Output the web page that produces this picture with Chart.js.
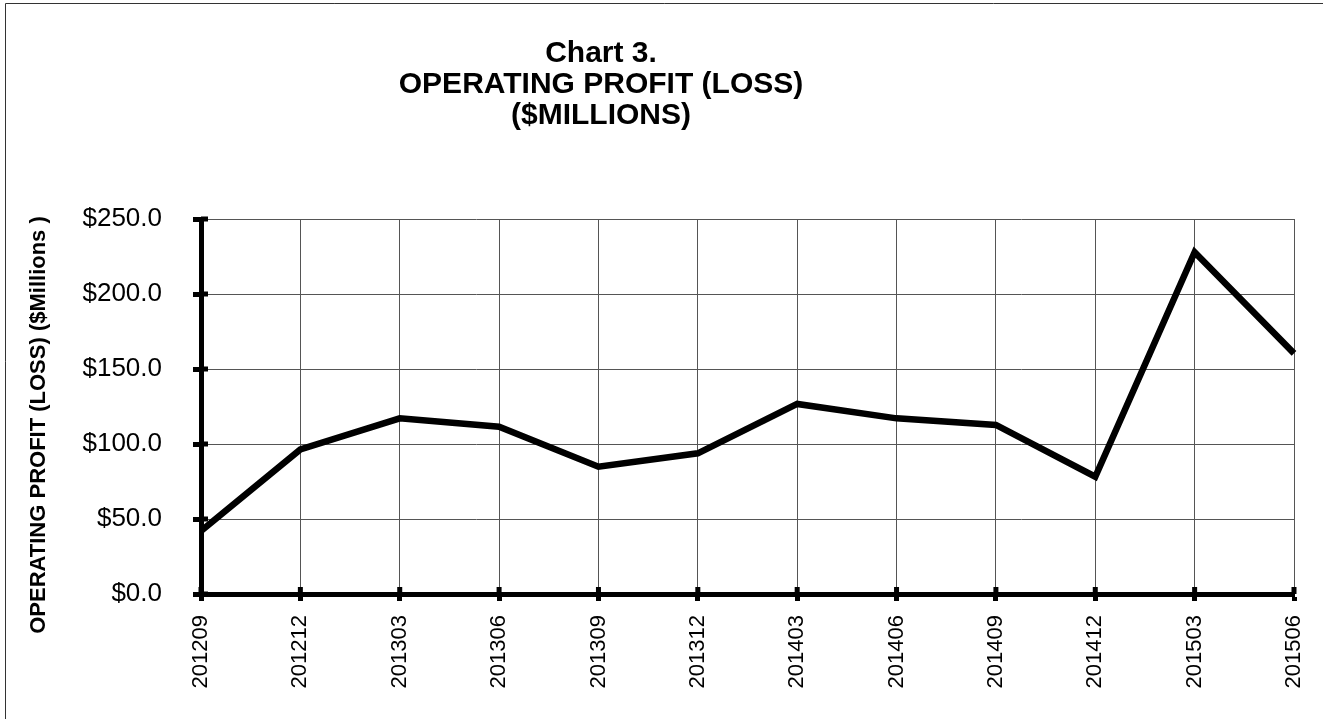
<!DOCTYPE html>
<html>
<head>
<meta charset="utf-8">
<script src="https://cdn.jsdelivr.net/npm/chart.js@4/dist/chart.umd.min.js"></script>
<style>
  body { margin: 0; background: #fff; }
  canvas { display: block; }
</style>
</head>
<body>
<canvas id="grafico" width="1323" height="719"></canvas>
<script>
// datos
const periodos = ['201209', '201212', '201303', '201306', '201309', '201312',
  '201403', '201406', '201409', '201412', '201503', '201506'];
const beneficio = [42, 96.4, 117.1, 111.5, 84.9, 93.8, 126.7, 117.1, 112.7, 78.2, 227.8, 160.4];
const tituloLineas = ['Chart 3.', 'OPERATING PROFIT (LOSS)', '($MILLIONS)'];
const tituloEjeY = 'OPERATING PROFIT (LOSS) ($Millions )';
const ejeMin = 0, ejeMax = 250, ejePaso = 50;

const fuente = "'Liberation Sans', Arial, sans-serif";
Chart.defaults.font.family = fuente;
Chart.defaults.color = '#000';

// marco, titulos y marcas cruzadas en los ejes
const textos = {
  id: 'textos',
  beforeDraw(chart) {
    const ctx = chart.ctx;
    ctx.save();
    ctx.strokeStyle = '#333';
    ctx.lineWidth = 1;
    ctx.beginPath();
    ctx.moveTo(5.5, 719); ctx.lineTo(5.5, 3.5); ctx.lineTo(1323, 3.5);
    ctx.stroke();
    ctx.restore();
  },
  afterDatasetsDraw(chart) {
    const ctx = chart.ctx;
    const area = chart.chartArea;
    const y = chart.scales.y, x = chart.scales.x;
    ctx.save();
    ctx.strokeStyle = '#000';
    ctx.lineWidth = 5;
    ctx.beginPath();
    y.ticks.forEach(t => {
      const py = y.getPixelForValue(t.value);
      ctx.moveTo(area.left, py); ctx.lineTo(area.left + 7, py);
    });
    periodos.forEach((p, i) => {
      const px = x.getPixelForValue(i);
      ctx.moveTo(px, area.bottom); ctx.lineTo(px, area.bottom - 7);
    });
    ctx.stroke();
    ctx.restore();
  },
  afterDraw(chart) {
    const ctx = chart.ctx;
    ctx.save();
    ctx.fillStyle = '#000';
    ctx.textAlign = 'center';
    ctx.textBaseline = 'alphabetic';
    ctx.font = 'bold 30px ' + fuente;
    tituloLineas.forEach((t, i) => ctx.fillText(t, 601, 62 + i * 31));
    ctx.translate(45, 425);
    ctx.rotate(-Math.PI / 2);
    ctx.font = 'bold 22px ' + fuente;
    ctx.fillText(tituloEjeY, 0, 0);
    ctx.restore();
  }
};

new Chart(document.getElementById('grafico'), {
  type: 'line',
  data: {
    labels: periodos,
    datasets: [{
      data: beneficio,
      borderColor: '#000',
      borderWidth: 6.5,
      pointRadius: 0,
      tension: 0,
      borderJoinStyle: 'miter'
    }]
  },
  options: {
    responsive: false,
    animation: false,
    layout: { padding: { top: 219, right: 29, left: 0, bottom: 0 } },
    plugins: {
      legend: { display: false },
      title: { display: false },
      tooltip: { enabled: false }
    },
    scales: {
      x: {
        afterFit(scale) {
          scale.height = 125;
          scale.paddingLeft = 0;
          scale.paddingRight = 0;
        },
        grid: { color: '#555', lineWidth: 1, tickLength: 7, tickWidth: 5, tickColor: '#000' },
        border: { color: '#000', width: 5 },
        ticks: {
          autoSkip: false, minRotation: 90, maxRotation: 90, padding: 14,
          font: { size: 22 }, color: '#000'
        }
      },
      y: {
        min: ejeMin,
        max: ejeMax,
        afterFit(scale) { scale.width = 201; },
        grid: { color: '#555', lineWidth: 1, tickLength: 8, tickWidth: 5, tickColor: '#000' },
        border: { color: '#000', width: 5 },
        ticks: {
          stepSize: ejePaso, padding: 31,
          font: { size: 26 }, color: '#000',
          callback: v => '$' + v.toFixed(1)
        }
      }
    }
  },
  plugins: [textos]
});
</script>
</body>
</html>
